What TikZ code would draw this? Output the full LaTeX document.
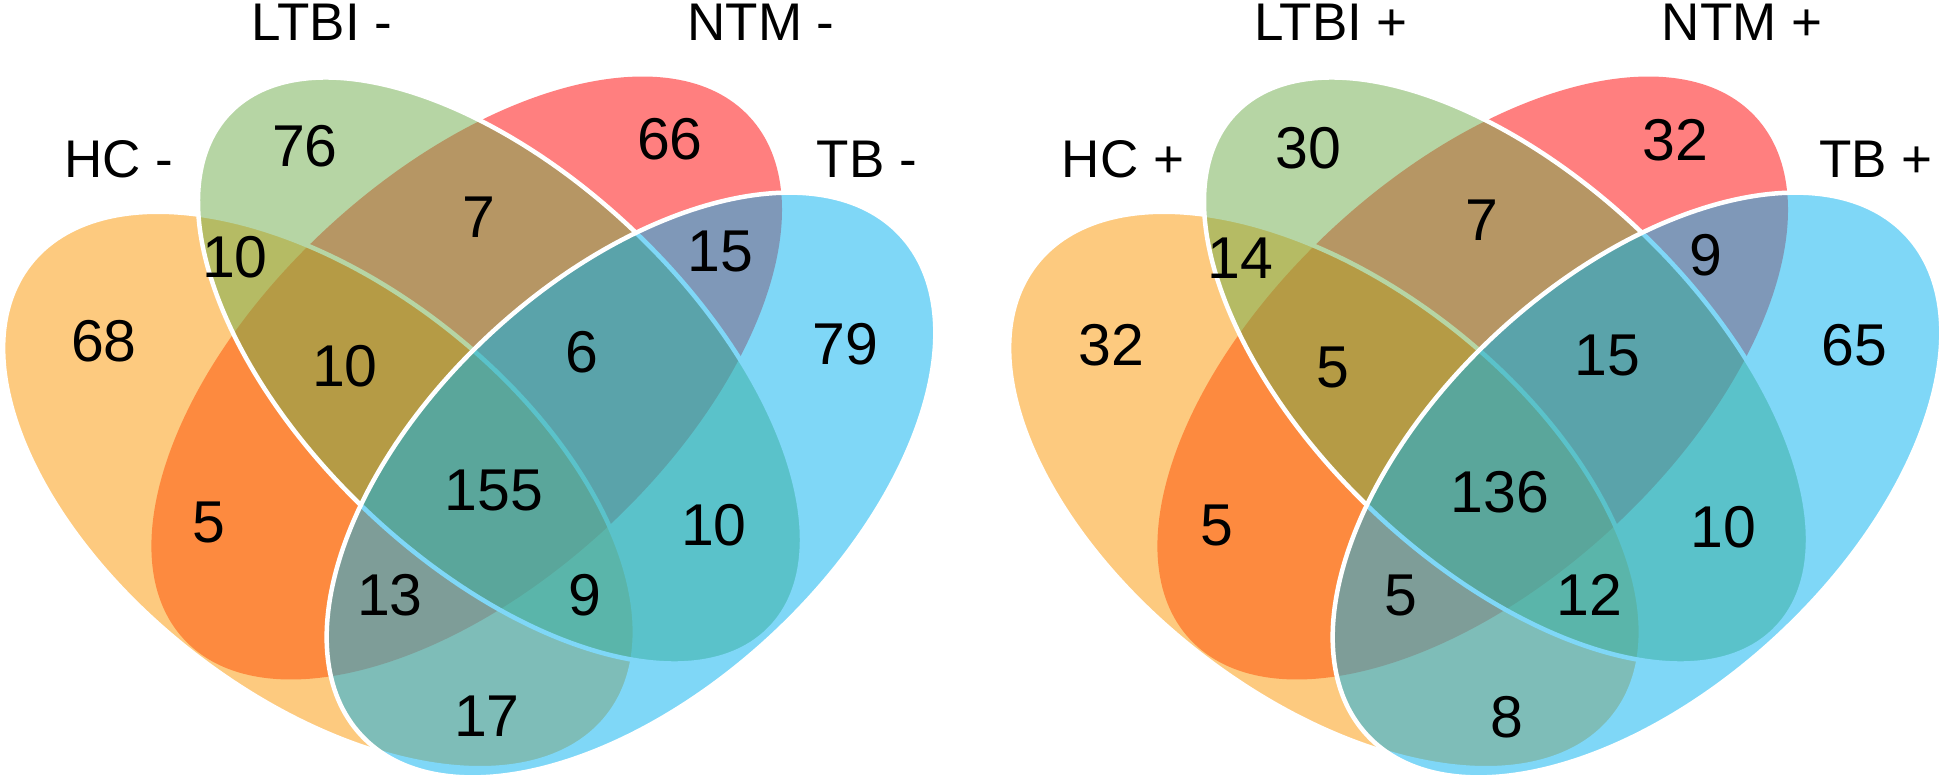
\documentclass[tikz,border=0pt]{standalone}
\usepackage{fontspec}
\setmainfont{Liberation Sans}
\definecolor{hcC}{RGB}{253,150,0}
\definecolor{ltbiC}{RGB}{111,173,75}
\definecolor{ntmC}{RGB}{255,0,0}
\definecolor{tbC}{RGB}{0,177,241}
\tikzset{
  setfill/.style={fill=#1, fill opacity=0.5},
  bord/.style={draw=white, draw opacity=1, line width=4.5pt},
  num/.style={font=\fontsize{59}{60}\selectfont, inner sep=0pt},
  lab/.style={font=\fontsize{53}{54}\selectfont, inner sep=0pt},
}
\newcommand\myquadvenn{%
  \path[setfill=ntmC, rotate around={42.7:(466.7,378)}] (466.7,378) ellipse [x radius=385, y radius=205];
  \path[setfill=hcC, bord, rotate around={-38:(319,490)}] (319,490) ellipse [x radius=367, y radius=206];
  \path[setfill=ltbiC, bord, rotate around={-43.5:(500,370.5)}] (500,370.5) ellipse [x radius=373.6, y radius=193.5];
  \path[setfill=tbC, bord, rotate around={42.8:(631,485)}] (631,485) ellipse [x radius=368, y radius=206.5];
}
\begin{document}
\begin{tikzpicture}[x=1pt,y=-1pt]
\useasboundingbox (0,0) rectangle (1946,784);
\fill[white] (0,0) rectangle (1946,784);
% left diagram
\begin{scope}
\myquadvenn
\end{scope}
% right diagram
\begin{scope}[shift={(1006,0)}]
\myquadvenn
\end{scope}
% left labels
\node[lab] (lHC) at (119,159) {HC -};
\node[lab] (lLTBI) at (322,22) {LTBI -};
\node[lab] (lNTM) at (761,22) {NTM -};
\node[lab] (lTB) at (867,159) {TB -};
% left counts
\node[num] (l76) at (305,146) {76};
\node[num] (l66) at (670,139) {66};
\node[num] (l10a) at (235,257) {10};
\node[num] (l7) at (479,217) {7};
\node[num] (l15) at (720,251) {15};
\node[num] (l68) at (104,341) {68};
\node[num] (l10b) at (345,366) {10};
\node[num] (l6) at (582,352) {6};
\node[num] (l79) at (845,344) {79};
\node[num] (l155) at (494,490) {155};
\node[num] (l5) at (209,522) {5};
\node[num] (l10c) at (714,525) {10};
\node[num] (l13) at (390,595) {13};
\node[num] (l9) at (585,595) {9};
\node[num] (l17) at (487,716) {17};
% right labels
\node[lab] (rHC) at (1123,159) {HC +};
\node[lab] (rLTBI) at (1331,22) {LTBI +};
\node[lab] (rNTM) at (1742,22) {NTM +};
\node[lab] (rTB) at (1876,159) {TB +};
% right counts
\node[num] (r30) at (1308,148) {30};
\node[num] (r32a) at (1675,140) {32};
\node[num] (r14) at (1240,258) {14};
\node[num] (r7) at (1482,220) {7};
\node[num] (r9) at (1706,255) {9};
\node[num] (r32b) at (1111,345) {32};
\node[num] (r5a) at (1333,367) {5};
\node[num] (r15) at (1607,355) {15};
\node[num] (r65) at (1854,345) {65};
\node[num] (r136) at (1500,492) {136};
\node[num] (r5b) at (1217,525) {5};
\node[num] (r10) at (1723,527) {10};
\node[num] (r5c) at (1401,595) {5};
\node[num] (r12) at (1589,595) {12};
\node[num] (r8) at (1507,717) {8};
\end{tikzpicture}
\end{document}
